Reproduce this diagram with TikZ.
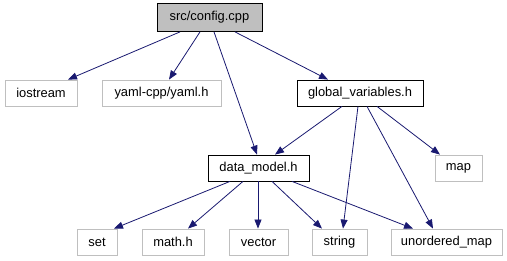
\documentclass[tikz,border=0pt]{standalone}
\usepackage{fontspec}
\setmainfont{Liberation Sans}
\usetikzlibrary{arrows.meta}
\definecolor{edgeblue}{HTML}{191970}
\definecolor{boxgrey}{HTML}{BFBFBF}
\begin{document}
\begin{tikzpicture}[x=1pt,y=-1pt,
  box/.style={draw, minimum height=26pt, inner sep=0pt, line width=0.8pt,
    font=\fontsize{12.9}{15}\selectfont},
  sysbox/.style={box, draw=boxgrey, fill=white},
  localbox/.style={box, draw=black, fill=white},
  rootbox/.style={box, draw=black, fill=boxgrey, minimum height=28pt},
  dep/.style={draw=edgeblue, line width=0.8pt, -{Triangle[length=9pt,width=7pt]}}
]
\useasboundingbox (0,0) rectangle (507,261);

% include hierarchy: source file, its headers, and the standard headers
\node[rootbox,  minimum width=105pt] (config)  at (209.5,17.5) {src/config.cpp};
\node[sysbox,   minimum width=72pt]  (iostream) at (41,93)    {iostream};
\node[sysbox,   minimum width=119pt] (yaml)     at (161.5,93) {yaml-cpp/yaml.h};
\node[localbox, minimum width=126pt] (global)   at (360,93)   {global\_variables.h};
\node[localbox, minimum width=101pt] (model)    at (258.5,168) {data\_model.h};
\node[sysbox,   minimum width=47pt]  (map)      at (458.5,168) {map};
\node[sysbox,   minimum width=40pt]  (set)      at (97,242)   {set};
\node[sysbox,   minimum width=62pt]  (math)     at (173,242)  {math.h};
\node[sysbox,   minimum width=59pt]  (vector)   at (258.5,242) {vector};
\node[sysbox,   minimum width=55pt]  (string)   at (339.5,242) {string};
\node[sysbox,   minimum width=111pt] (umap)     at (446.5,242) {unordered\_map};

% src/config.cpp includes
\draw[dep] ([xshift=-29.5pt]config.south) -- ([xshift=27pt]iostream.north);
\draw[dep] ([xshift=-9.5pt]config.south)  -- ([xshift=7.5pt]yaml.north);
\draw[dep] ([xshift=4.5pt]config.south)   -- ([xshift=-1.5pt]model.north);
\draw[dep] ([xshift=25.5pt]config.south)  -- ([xshift=-32pt]global.north);

% global_variables.h includes
\draw[dep] ([xshift=-18pt]global.south) -- ([xshift=16.5pt]model.north);
\draw[dep] ([xshift=-2pt]global.south)  -- ([xshift=3.5pt]string.north);
\draw[dep] ([xshift=7pt]global.south)   -- ([xshift=-13.5pt]umap.north);
\draw[dep] ([xshift=17pt]global.south)  -- ([xshift=-18.5pt]map.north);

% data_model.h includes
\draw[dep] ([xshift=-28.5pt]model.south) -- ([xshift=17pt]set.north);
\draw[dep] ([xshift=-15.5pt]model.south) -- ([xshift=15pt]math.north);
\draw[dep] ([xshift=-0.5pt]model.south)  -- ([xshift=-0.5pt]vector.north);
\draw[dep] ([xshift=13.5pt]model.south)  -- ([xshift=-17.5pt]string.north);
\draw[dep] ([xshift=33.5pt]model.south)  -- ([xshift=-33.5pt]umap.north);
\end{tikzpicture}
\end{document}
